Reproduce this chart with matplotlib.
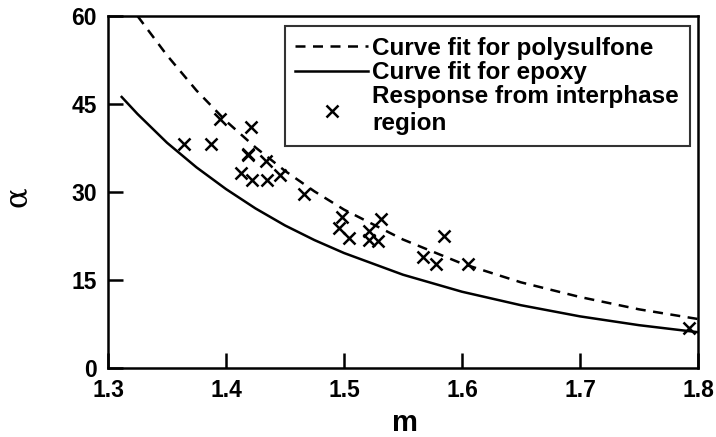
import matplotlib.pyplot as plt

plt.rcParams['font.family'] = ['Liberation Sans', 'DejaVu Sans']
plt.rcParams['font.weight'] = 'bold'

# Curve fit for polysulfone (alpha vs m)
poly_m = [1.325, 1.35, 1.375, 1.40, 1.425, 1.45, 1.475, 1.50, 1.55, 1.60, 1.65, 1.70, 1.75, 1.80]
poly_alpha = [60.0, 53.3, 47.3, 42.1, 37.6, 33.6, 30.1, 27.0, 21.9, 17.8, 14.6, 12.1, 10.0, 8.35]

# Curve fit for epoxy
epoxy_m = [1.3116, 1.325, 1.35, 1.375, 1.40, 1.425, 1.45, 1.475, 1.50, 1.55, 1.60, 1.65, 1.70, 1.75, 1.80]
epoxy_alpha = [46.2, 43.3, 38.4, 34.2, 30.5, 27.2, 24.3, 21.8, 19.6, 15.9, 13.0, 10.7, 8.8, 7.3, 6.1]

# Measured response from the interphase region
resp_m = [1.364, 1.387, 1.395, 1.421, 1.419, 1.419, 1.434, 1.413, 1.422, 1.435, 1.446, 1.466,
          1.498, 1.496, 1.504, 1.531, 1.521, 1.521, 1.529, 1.585, 1.567, 1.578, 1.605, 1.792]
resp_alpha = [38.1, 38.1, 42.4, 41.0, 36.3, 36.5, 35.2, 33.3, 32.0, 32.0, 32.9, 29.7,
              25.8, 23.8, 22.1, 25.4, 23.4, 21.8, 21.7, 22.5, 19.0, 17.7, 17.7, 6.8]

fig = plt.figure(figsize=(7.16, 4.37), dpi=100)
ax = fig.add_axes([108 / 716, 1 - 368 / 437, 590 / 716, 352 / 437])

ax.plot(poly_m, poly_alpha, color='black', lw=1.8, linestyle=(0, (4, 3)),
        label='Curve fit for polysulfone')
ax.plot(epoxy_m, epoxy_alpha, color='black', lw=1.8, label='Curve fit for epoxy')
ax.plot(resp_m, resp_alpha, linestyle='none', marker='x', color='black', ms=8, mew=1.8,
        label='Response from interphase\nregion')

ax.set_xlim(1.3, 1.8)
ax.set_ylim(0, 60)
ax.set_xticks([1.3, 1.4, 1.5, 1.6, 1.7, 1.8])
ax.set_xticklabels(['1.3', '1.4', '1.5', '1.6', '1.7', '1.8'])
ax.set_yticks([0, 15, 30, 45, 60])
ax.tick_params(direction='in', length=11, width=1.8, labelsize=16.5)
ax.tick_params(axis='x', pad=8)
ax.tick_params(axis='y', pad=8)
for s in ax.spines.values():
    s.set_linewidth(1.8)

# axis titles placed in figure pixels
fig.text(405 / 716, 1 - 423 / 437, 'm', fontsize=21, fontweight='bold',
         ha='center', va='center')
fig.text(17 / 716, 1 - 197 / 437, 'α', fontsize=22, family='DejaVu Serif',
         fontweight='normal', rotation=90, ha='center', va='center')

leg = ax.legend(loc='upper right', bbox_to_anchor=(0.986, 0.972), fontsize=17.5,
                frameon=True, fancybox=False, edgecolor='black', handlelength=3.0,
                handletextpad=0.15, labelspacing=0.05, borderpad=0.45, borderaxespad=0)
leg.get_frame().set_linewidth(1.5)

fig.savefig('out.png', dpi=100)
